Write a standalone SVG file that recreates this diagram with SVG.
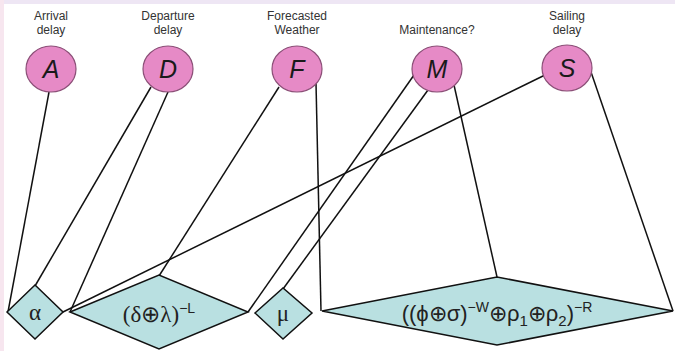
<svg xmlns="http://www.w3.org/2000/svg" width="675" height="351" viewBox="0 0 675 351">
<style>
.lbl{font-family:"Liberation Sans",Arial,sans-serif;font-size:12px;fill:#333;text-anchor:middle}
.var ellipse{fill:#e68ac6;stroke:#8b4f77;stroke-width:1.2}
.var .v{font-family:"Liberation Sans",Arial,sans-serif;font-size:25px;font-style:italic;fill:#1a1a1a;text-anchor:middle}
.fac polygon{fill:#b9e0e1;stroke:#111;stroke-width:1.5;stroke-linejoin:miter}
.fac text{fill:#222;text-anchor:middle}
.serif{font-family:"Liberation Serif","Times New Roman",serif;font-size:23px}
.sans{font-family:"Liberation Sans",Arial,sans-serif;font-size:22px}
#edges line{stroke:#111;stroke-width:1.5}
</style>
<rect x="0" y="0" width="675" height="351" fill="#ffffff"/>
<rect x="0" y="0" width="675" height="4" fill="#eee6f4"/>
<rect x="0" y="0" width="4" height="351" fill="#f7e6ef"/>
<g id="edges">
<line x1="49" y1="92" x2="8" y2="312"/>
<line x1="151" y1="87" x2="35" y2="286"/>
<line x1="168" y1="92" x2="70" y2="312"/>
<line x1="279" y1="87" x2="159" y2="276"/>
<line x1="316" y1="83" x2="321" y2="311"/>
<line x1="414" y1="75" x2="248" y2="312"/>
<line x1="428" y1="90" x2="283" y2="289"/>
<line x1="454" y1="85" x2="497" y2="277"/>
<line x1="545" y1="75" x2="63" y2="312"/>
<line x1="591" y1="72" x2="673" y2="311"/>
</g>
<g id="A" class="var"><text class="lbl" x="51" y="20">Arrival</text><text class="lbl" x="51" y="34">delay</text><ellipse cx="51" cy="69" rx="25" ry="23"/><text class="v" x="51" y="78">A</text></g>
<g id="D" class="var"><text class="lbl" x="168" y="20">Departure</text><text class="lbl" x="168" y="34">delay</text><ellipse cx="168" cy="69" rx="25" ry="23"/><text class="v" x="168" y="78">D</text></g>
<g id="F" class="var"><text class="lbl" x="297" y="20">Forecasted</text><text class="lbl" x="297" y="34">Weather</text><ellipse cx="297" cy="69" rx="25" ry="23"/><text class="v" x="297" y="78">F</text></g>
<g id="M" class="var"><text class="lbl" x="437" y="34">Maintenance?</text><ellipse cx="437" cy="69" rx="25" ry="23"/><text class="v" x="437" y="78">M</text></g>
<g id="S" class="var"><text class="lbl" x="567" y="20">Sailing</text><text class="lbl" x="567" y="34">delay</text><ellipse cx="567" cy="68" rx="25" ry="23"/><text class="v" x="567" y="77">S</text></g>
<g id="alpha" class="fac"><polygon points="7,312 35,285 63,312 35,339"/><text class="serif" x="35" y="320">α</text></g>
<g id="dl" class="fac"><polygon points="70,312 159,275 248,312 159,349"/><text class="serif" x="159" y="322">(δ⊕λ)<tspan class="sans" style="font-size:14px" dy="-9">−L</tspan></text></g>
<g id="mu" class="fac"><polygon points="255,313 283,288 312,313 283,339"/><text class="serif" x="283" y="321">μ</text></g>
<g id="big" class="fac"><polygon points="322,311 497,277 673,311 497,345"/><text class="sans" x="497" y="321">((ϕ⊕σ)<tspan style="font-size:14px" dy="-9">−W</tspan><tspan dy="9">⊕ρ</tspan><tspan style="font-size:15px" dy="5">1</tspan><tspan dy="-5">⊕ρ</tspan><tspan style="font-size:15px" dy="5">2</tspan><tspan dy="-5">)</tspan><tspan style="font-size:14px" dy="-9">−R</tspan></text></g>
</svg>
